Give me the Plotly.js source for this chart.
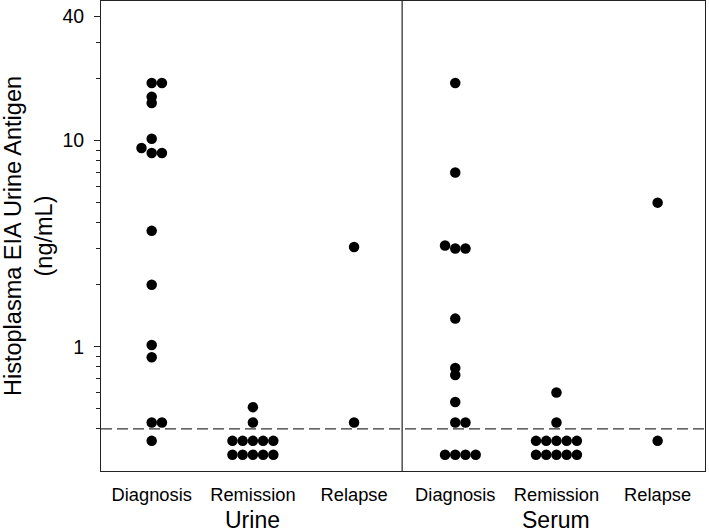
<!DOCTYPE html>
<html>
<head>
<meta charset="utf-8">
<script src="https://cdn.plot.ly/plotly-3.0.1.min.js"></script>
<style>html,body{margin:0;padding:0;background:#fff;}#chart{width:709px;height:532px;}</style>
</head>
<body>
<div id="chart"></div>
<script>
// ---- data ----
const categories = ['Diagnosis', 'Remission', 'Relapse'];
const specimens = ['Urine', 'Serum'];
const urineDiagnosis = [19, 19, 16.3, 15.2, 10.2, 9.2, 8.7, 8.7, 3.65, 2.0, 1.02, 0.89, 0.43, 0.43, 0.35];
const urineRemission = [0.51, 0.43, 0.35, 0.35, 0.35, 0.35, 0.35, 0.30, 0.30, 0.30, 0.30, 0.30];
const urineRelapse = [3.05, 0.43];
const serumDiagnosis = [19, 7.0, 3.1, 3.0, 3.0, 1.37, 0.79, 0.73, 0.54, 0.43, 0.43, 0.30, 0.30, 0.30, 0.30];
const serumRemission = [0.60, 0.43, 0.35, 0.35, 0.35, 0.35, 0.35, 0.30, 0.30, 0.30, 0.30, 0.30];
const serumRelapse = [5.0, 0.35];
const detectionLimit = 0.4;
const yTickVals = [1, 10, 40];
const yMinorTickVals = [0.4, 0.5, 0.6, 0.7, 0.8, 0.9, 2, 3, 4, 5, 6, 7, 8, 9, 20, 30];
const yTitle = 'Histoplasma EIA Urine Antigen<br>(ng/mL)';

const groups = [
  [urineDiagnosis, urineRemission, urineRelapse],
  [serumDiagnosis, serumRemission, serumRelapse]
];

// simple beeswarm: points whose log values are within thr share a row and spread sideways
function swarm(values, center, thr, step) {
  const order = values.map((v, i) => i).sort((a, b) => values[a] - values[b]);
  const placed = [];
  const xs = new Array(values.length);
  for (const i of order) {
    const lv = Math.log10(values[i]);
    for (let k = 0; ; k++) {
      const slot = k === 0 ? 0 : (k % 2 === 1 ? (k + 1) / 2 : -k / 2);
      if (!placed.some(p => p.slot === slot && Math.abs(p.lv - lv) < thr)) {
        placed.push({ slot, lv });
        xs[i] = center + slot * step;
        break;
      }
    }
  }
  return xs;
}

const traces = [];
const tickVals = [], tickText = [];
const xMin = -0.501, xMax = 5.468;
groups.forEach((g, si) => {
  g.forEach((vals, ci) => {
    const center = si * categories.length + ci;
    tickVals.push(center);
    tickText.push(categories[ci]);
    traces.push({
      type: 'scatter', mode: 'markers',
      x: swarm(vals, center, 0.029, 0.101),
      y: vals,
      name: specimens[si] + ' ' + categories[ci],
      marker: { color: '#000', size: 10.5, line: { width: 0 } },
      showlegend: false, hoverinfo: 'y'
    });
  });
});
traces.push({
  type: 'scatter', mode: 'lines',
  x: [xMin, xMax], y: [detectionLimit, detectionLimit],
  line: { color: '#333', width: 1.4, dash: '11px,5px' },
  showlegend: false, hoverinfo: 'skip'
});

const font = 'Arial, "Liberation Sans", sans-serif';
const layout = {
  width: 709, height: 532,
  margin: { l: 101, r: 4, t: 1, b: 61 },
  paper_bgcolor: '#fff', plot_bgcolor: '#fff',
  font: { family: font, color: '#000' },
  showlegend: false,
  xaxis: {
    range: [xMin, xMax], tickmode: 'array', tickvals: tickVals, ticktext: tickText,
    ticks: '', showgrid: false, zeroline: false,
    showline: true, mirror: true, linecolor: '#222', linewidth: 1,
    tickfont: { family: font, size: 18.3, color: '#000' },
    ticklabelstandoff: 7
  },
  yaxis: {
    type: 'log', range: [Math.log10(0.25), Math.log10(47.5)],
    tickmode: 'array', tickvals: yTickVals, ticktext: yTickVals.map(String),
    ticks: 'outside', ticklen: 6, tickwidth: 1, tickcolor: '#222',
    minor: { tickmode: 'array', tickvals: yMinorTickVals, ticks: 'outside', ticklen: 4, tickwidth: 1, tickcolor: '#222', showgrid: false },
    showgrid: false, zeroline: false,
    showline: true, mirror: true, linecolor: '#222', linewidth: 1,
    tickfont: { family: font, size: 19.5, color: '#000' },
    ticklabelstandoff: 6,
    title: { text: yTitle, font: { family: font, size: 23.5, color: '#000' }, standoff: 5 },
    automargin: false
  },
  shapes: [{
    type: 'line', xref: 'paper', yref: 'paper', x0: 0.4986, x1: 0.4986, y0: 0, y1: 1,
    line: { color: '#333', width: 1.3 }
  }],
  annotations: specimens.map((s, si) => ({
    text: s, xref: 'x', yref: 'paper',
    x: si * categories.length + 1, y: -0.1338,
    xanchor: 'center', yanchor: 'bottom', showarrow: false, borderpad: 0,
    font: { family: font, size: 23, color: '#000' }
  }))
};

Plotly.newPlot('chart', traces, layout, { staticPlot: true, displayModeBar: false });
</script>
</body>
</html>
